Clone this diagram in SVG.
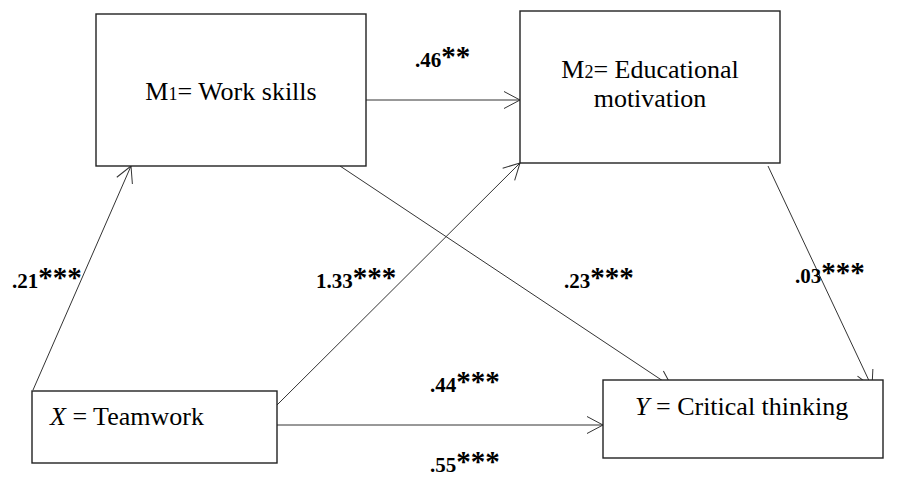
<svg xmlns="http://www.w3.org/2000/svg" width="898" height="480" viewBox="0 0 898 480" font-family="'Liberation Serif', 'Times New Roman', serif">
<style>
.box{fill:#fff;stroke:#222;stroke-width:1.4}
.lbl{font-size:26px;fill:#000}
.coef{font-size:21px;font-weight:bold;fill:#000}
.st{font-size:29px}
.con{stroke:#333;stroke-width:1;fill:none;marker-end:url(#ah)}
</style>
<defs>
<marker id="ah" markerUnits="userSpaceOnUse" markerWidth="24" markerHeight="24" viewBox="-20 -12 24 24" refX="0" refY="0" orient="auto">
<path d="M-16,-8.5 L0,0 L-16,8.5" fill="none" stroke="#333" stroke-width="1"/>
</marker>
</defs>
<rect width="898" height="480" fill="#fff"/>
<g id="connectors">
<line class="con" x1="366" y1="100" x2="520" y2="100"/>
<line class="con" x1="33" y1="390" x2="131" y2="166"/>
<line class="con" x1="277" y1="405" x2="520" y2="163"/>
<line class="con" x1="340" y1="166" x2="672" y2="387"/>
<line class="con" x1="768" y1="166" x2="872" y2="387"/>
<line class="con" x1="277" y1="425" x2="603" y2="425"/>
</g>
<g id="m1">
<rect class="box" x="96" y="14" width="270" height="152"/>
<text class="lbl" x="231" y="100" text-anchor="middle">M<tspan font-size="18">1</tspan>= Work skills</text>
</g>
<g id="m2">
<rect class="box" x="520" y="11" width="260" height="152"/>
<text class="lbl" x="650" y="78" text-anchor="middle">M<tspan font-size="18">2</tspan>= Educational</text>
<text class="lbl" x="650" y="107" text-anchor="middle">motivation</text>
</g>
<g id="x">
<rect class="box" x="32" y="391" width="245" height="72"/>
<text class="lbl" x="50" y="425"><tspan font-style="italic">X</tspan> = Teamwork</text>
</g>
<g id="y">
<rect class="box" x="603" y="380" width="280" height="78"/>
<text class="lbl" x="635" y="415"><tspan font-style="italic">Y</tspan> = Critical thinking</text>
</g>
<g id="labels">
<text class="coef" x="415" y="67">.46<tspan class="st" dy="-1">**</tspan></text>
<text class="coef" x="12" y="288">.21<tspan class="st" dy="-1">***</tspan></text>
<text class="coef" x="316" y="288">1.33<tspan class="st" dy="-1">***</tspan></text>
<text class="coef" x="564" y="288">.23<tspan class="st" dy="-1">***</tspan></text>
<text class="coef" x="795" y="283">.03<tspan class="st" dy="-1">***</tspan></text>
<text class="coef" x="430" y="392">.44<tspan class="st" dy="-1">***</tspan></text>
<text class="coef" x="430" y="472">.55<tspan class="st" dy="-1">***</tspan></text>
</g>
</svg>
